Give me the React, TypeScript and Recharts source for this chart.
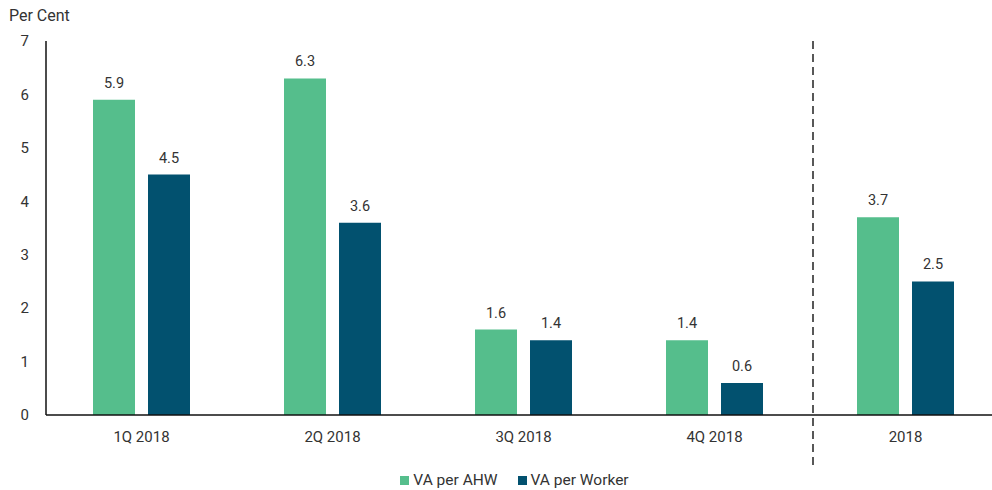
import React from 'react';
import { BarChart, Bar, XAxis, YAxis, Legend, LabelList, ReferenceLine } from 'recharts';

const categories = ['1Q 2018', '2Q 2018', '3Q 2018', '4Q 2018', '2018'];
const vaPerAHW = [5.9, 6.3, 1.6, 1.4, 3.7];
const vaPerWorker = [4.5, 3.6, 1.4, 0.6, 2.5];
const yTicks = [0, 1, 2, 3, 4, 5, 6, 7];

const data = categories.map((c, i) => ({ name: c, ahw: vaPerAHW[i], worker: vaPerWorker[i] }));

const FONT = 'Roboto, "Noto Sans", sans-serif';
const GREEN = '#55BE8C';
const BLUE = '#02516F';

const DashedDivider = (props: any) => {
  const { x1, y1, x2, y2 } = props;
  const top = Math.min(y1, y2);
  const bottom = Math.max(y1, y2);
  return (
    <line x1={x1 + 3} y1={top} x2={x2 + 3} y2={bottom + 52} stroke="#222" strokeWidth={1.5} strokeDasharray="8 5" />
  );
};

const LegendContent = (props: any) => {
  const { payload } = props;
  return (
    <div style={{ display: 'flex', justifyContent: 'center', gap: 20, paddingLeft: 28, fontFamily: FONT, fontSize: 15.5, color: '#333' }}>
      {(payload || []).map((p: any) => (
        <div key={p.value} style={{ display: 'flex', alignItems: 'center' }}>
          <span style={{ display: 'inline-block', width: 9, height: 9, background: p.color, marginRight: 4 }} />
          <span>{p.value}</span>
        </div>
      ))}
    </div>
  );
};

export default function App() {
  return (
    <div style={{ position: 'absolute', left: 0, top: 0, width: 992, height: 490, overflow: 'hidden', fontFamily: FONT }}>
      <div style={{ position: 'absolute', left: 9, top: 6, fontSize: 16, color: '#333', fontFamily: FONT }}>Per Cent</div>
      <BarChart
        width={1010}
        height={490}
        data={data}
        margin={{ top: 41, right: 9, left: 0, bottom: 0 }}
        barSize={42}
        barGap={13}
      >
        <XAxis
          dataKey="name"
          axisLine={{ stroke: '#111', strokeWidth: 1.5 }}
          tickLine={false}
          tickMargin={10}
          height={56}
          tick={{ fill: '#333', fontSize: 15, fontFamily: FONT }}
          interval={0}
        />
        <YAxis
          domain={[0, 7]}
          ticks={yTicks}
          width={46}
          axisLine={{ stroke: '#111', strokeWidth: 1.5 }}
          tickLine={false}
          tickMargin={11}
          tick={{ fill: '#333', fontSize: 15, fontFamily: FONT }}
          interval={0}
        />
        <ReferenceLine x="4Q 2018" position="end" shape={<DashedDivider />} ifOverflow="visible" />
        <Legend verticalAlign="bottom" height={19} content={<LegendContent />} />
        <Bar dataKey="ahw" name="VA per AHW" fill={GREEN} isAnimationActive={false}>
          <LabelList dataKey="ahw" position="top" offset={12} fill="#333" fontSize={14.5} fontFamily={FONT} />
        </Bar>
        <Bar dataKey="worker" name="VA per Worker" fill={BLUE} isAnimationActive={false}>
          <LabelList dataKey="worker" position="top" offset={12} fill="#333" fontSize={14.5} fontFamily={FONT} />
        </Bar>
      </BarChart>
    </div>
  );
}
